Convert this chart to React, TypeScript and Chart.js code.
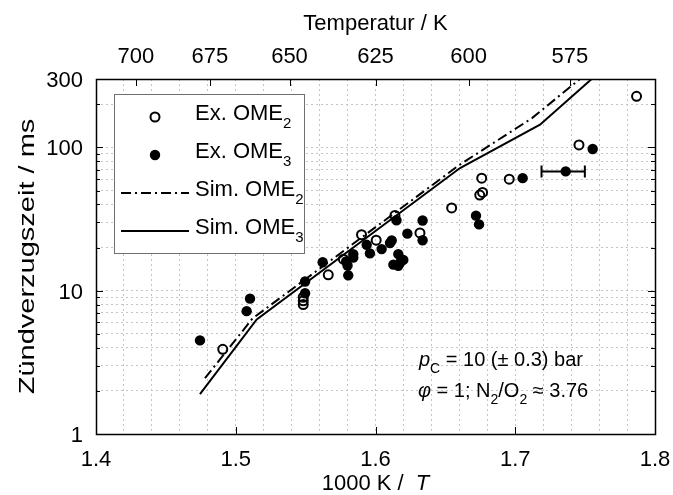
import React, { useEffect, useRef } from "react";
import { Chart, registerables } from "chart.js";

Chart.register(...registerables);

const FONT = '"Liberation Sans", Arial, Helvetica, sans-serif';
const FS = 22;

// Experiment OME2 (open circles)
const ome2X = [1.4907, 1.5483, 1.5483, 1.5483, 1.5662, 1.577, 1.590, 1.6005, 1.6139, 1.6318, 1.6545, 1.6746, 1.6766, 1.676, 1.6957, 1.7456, 1.7868];
const ome2Y = [3.9, 9.0, 8.5, 8.0, 12.9, 16.6, 24.6, 22.5, 33.5, 25.3, 37.8, 46.5, 48.5, 61, 60, 104, 227];

// Experiment OME3 (filled circles)
const ome3X = [1.4744, 1.5078, 1.5102, 1.5496, 1.5496, 1.5622, 1.5805, 1.579, 1.58, 1.5841, 1.5841, 1.5937, 1.596, 1.6044, 1.6104, 1.6116, 1.6128, 1.6163, 1.6175, 1.6199, 1.6163, 1.615, 1.6228, 1.6337, 1.6337, 1.6719, 1.6741, 1.7053, 1.7361, 1.7554];
const ome3Y = [4.5, 7.2, 8.8, 11.6, 9.6, 15.8, 12.8, 16.0, 15.0, 18.0, 17.0, 20.9, 18.2, 19.5, 21.5, 22.4, 15.2, 18.0, 15.6, 16.4, 14.9, 31.0, 25.0, 30.9, 22.5, 33.4, 29.0, 61, 68, 97.5];

// Simulation curves
const sim2X = [1.478, 1.512, 1.6605, 1.712, 1.7463];
const sim2Y = [2.45, 6.4, 76, 160, 300];
const sim3X = [1.4744, 1.515, 1.6605, 1.7177, 1.7547];
const sim3Y = [1.9, 6.3, 71.8, 144, 300];

// Horizontal error bar
const errX = [1.7361];
const errY = [68];
const errLow = [1.7188];
const errHigh = [1.7498];

// Ticks
const xGridTicks = [1.4, 1.42, 1.44, 1.46, 1.48, 1.5, 1.52, 1.54, 1.56, 1.58, 1.6, 1.62, 1.64, 1.66, 1.68, 1.7, 1.72, 1.74, 1.76, 1.78, 1.8];
const xLabelTicks = [1.4, 1.5, 1.6, 1.7, 1.8];
const yGridTicks = [1, 2, 3, 4, 5, 6, 7, 8, 9, 10, 20, 30, 40, 50, 60, 70, 80, 90, 100, 200, 300];
const yLabelTicks = [1, 10, 100, 300];
const yMajorTicks = [1, 10, 100];
const tempTicks = [700, 675, 650, 625, 600, 575];

type Part = { t: string; it?: boolean; sub?: boolean };

function richWidth(ctx: CanvasRenderingContext2D, parts: Part[], size: number, sub: number) {
  let w = 0;
  for (const p of parts) {
    ctx.font = `${p.it ? "italic " : ""}${p.sub ? sub : size}px ${FONT}`;
    w += ctx.measureText(p.t).width;
  }
  return w;
}

function drawRich(ctx: CanvasRenderingContext2D, parts: Part[], x: number, y: number, size: number, sub: number) {
  let cx = x;
  for (const p of parts) {
    ctx.font = `${p.it ? "italic " : ""}${p.sub ? sub : size}px ${FONT}`;
    ctx.fillText(p.t, cx, y + (p.sub ? Math.round(size * 0.36) : 0));
    cx += ctx.measureText(p.t).width;
  }
}

const errorBarPlugin = {
  id: "errorBars",
  beforeDatasetsDraw(chart: any) {
    const { ctx, scales } = chart;
    const xs = scales.x, ys = scales.y;
    ctx.save();
    ctx.strokeStyle = "#000";
    ctx.lineWidth = 2;
    errX.forEach((_, i) => {
      const py = ys.getPixelForValue(errY[i]);
      const l = xs.getPixelForValue(errLow[i]);
      const r = xs.getPixelForValue(errHigh[i]);
      ctx.beginPath();
      ctx.moveTo(l, py);
      ctx.lineTo(r, py);
      ctx.moveTo(l, py - 6);
      ctx.lineTo(l, py + 6);
      ctx.moveTo(r, py - 6);
      ctx.lineTo(r, py + 6);
      ctx.stroke();
    });
    ctx.restore();
  },
};

const decorPlugin = {
  id: "decor",
  afterDatasetsDraw(chart: any) {
    const { ctx, chartArea: a, scales } = chart;
    const xs = scales.x, ys = scales.y, xt = scales.xTop;
    ctx.save();
    ctx.strokeStyle = "#000";
    ctx.lineWidth = 1;
    // ticks
    ctx.beginPath();
    xLabelTicks.forEach((v) => {
      const px = Math.round(xs.getPixelForValue(v)) + 0.5;
      ctx.moveTo(px, a.bottom);
      ctx.lineTo(px, a.bottom - 7);
    });
    tempTicks.forEach((T) => {
      const px = Math.round(xt.getPixelForValue(1000 / T)) + 0.5;
      ctx.moveTo(px, a.top);
      ctx.lineTo(px, a.top + 7);
    });
    yGridTicks.forEach((v) => {
      const py = Math.round(ys.getPixelForValue(v)) + 0.5;
      const len = yMajorTicks.includes(v) ? 7 : 4;
      ctx.moveTo(a.left, py);
      ctx.lineTo(a.left + len, py);
      ctx.moveTo(a.right, py);
      ctx.lineTo(a.right - len, py);
    });
    ctx.stroke();
    // frame
    ctx.lineWidth = 1.5;
    ctx.strokeRect(Math.round(a.left) + 0.5, Math.round(a.top) + 0.5, Math.round(a.right - a.left), Math.round(a.bottom - a.top));

    ctx.fillStyle = "#000";
    ctx.textBaseline = "alphabetic";
    ctx.font = `${FS}px ${FONT}`;

    // tick labels (positions from the chart scales)
    ctx.textAlign = "center";
    xLabelTicks.forEach((v) => ctx.fillText(v.toFixed(1), xs.getPixelForValue(v), 466));
    tempTicks.forEach((T) => ctx.fillText(String(T), xt.getPixelForValue(1000 / T), 63));
    ctx.textAlign = "right";
    yLabelTicks.forEach((v) => ctx.fillText(String(v), a.left - 13, ys.getPixelForValue(v) + 8));

    ctx.textAlign = "left";
    const cx = (a.left + a.right) / 2;

    // top title
    const topTitle: Part[] = [{ t: "Temperatur / K" }];
    drawRich(ctx, topTitle, cx - richWidth(ctx, topTitle, FS, 15) / 2, 30, FS, 15);
    // bottom title
    const botTitle: Part[] = [{ t: "1000 K /  " }, { t: "T", it: true }];
    drawRich(ctx, botTitle, cx - richWidth(ctx, botTitle, FS, 15) / 2, 490, FS, 15);
    // y title
    ctx.save();
    ctx.translate(28, (a.top + a.bottom) / 2);
    ctx.rotate(-Math.PI / 2);
    ctx.scale(1, 0.78);
    ctx.font = `29px ${FONT}`;
    ctx.textAlign = "center";
    ctx.textBaseline = "middle";
    ctx.fillText("Zündverzugszeit / ms", 0, 0);
    ctx.restore();

    // legend
    const lx = 114, ly = 94, lw = 190, lh = 159;
    ctx.fillStyle = "#fff";
    ctx.fillRect(lx, ly, lw, lh);
    ctx.strokeStyle = "#707070";
    ctx.lineWidth = 1;
    ctx.strokeRect(lx + 0.5, ly + 0.5, lw, lh);
    const rows = [117, 155, 193, 231];
    ctx.strokeStyle = "#000";
    ctx.fillStyle = "#000";
    ctx.lineWidth = 2;
    ctx.beginPath();
    ctx.arc(155, rows[0], 4.5, 0, Math.PI * 2);
    ctx.stroke();
    ctx.beginPath();
    ctx.arc(155, rows[1], 5.2, 0, Math.PI * 2);
    ctx.fill();
    ctx.setLineDash([10, 4, 2, 4]);
    ctx.beginPath();
    ctx.moveTo(121, rows[2]);
    ctx.lineTo(189, rows[2]);
    ctx.stroke();
    ctx.setLineDash([]);
    ctx.beginPath();
    ctx.moveTo(121, rows[3]);
    ctx.lineTo(189, rows[3]);
    ctx.stroke();
    const labels: Part[][] = [
      [{ t: "Ex. OME" }, { t: "2", sub: true }],
      [{ t: "Ex. OME" }, { t: "3", sub: true }],
      [{ t: "Sim. OME" }, { t: "2", sub: true }],
      [{ t: "Sim. OME" }, { t: "3", sub: true }],
    ];
    labels.forEach((parts, i) => drawRich(ctx, parts, 195, rows[i] + 3, FS, 15));

    // annotation
    drawRich(ctx, [{ t: "p", it: true }, { t: "C", sub: true }, { t: " = 10 (± 0.3) bar" }], 419, 366, 20, 14);
    drawRich(ctx, [{ t: "φ", it: true }, { t: " = 1; N" }, { t: "2", sub: true }, { t: "/O" }, { t: "2", sub: true }, { t: " ≈ 3.76" }], 418, 397, 20, 14);
    ctx.restore();
  },
};

export default function App() {
  const ref = useRef<HTMLCanvasElement>(null);
  useEffect(() => {
    const canvas = ref.current;
    if (!canvas) return;
    const gridStyle = { color: "#c4c4c4", lineWidth: 1, drawTicks: false };
    const borderStyle = { display: false, dash: [2, 3] };
    const chart = new Chart(canvas, {
      type: "scatter",
      data: {
        datasets: [
          {
            label: "Ex. OME2",
            data: ome2X.map((x, i) => ({ x, y: ome2Y[i] })),
            pointStyle: "circle",
            pointRadius: 4.5,
            pointBorderWidth: 2,
            borderColor: "#000",
            backgroundColor: "rgba(255,255,255,0)",
            showLine: false,
          },
          {
            label: "Ex. OME3",
            data: ome3X.map((x, i) => ({ x, y: ome3Y[i] })),
            pointStyle: "circle",
            pointRadius: 5.2,
            pointBorderWidth: 0,
            borderColor: "#000",
            backgroundColor: "#000",
            showLine: false,
          },
          {
            label: "Sim. OME2",
            data: sim2X.map((x, i) => ({ x, y: sim2Y[i] })),
            showLine: true,
            pointRadius: 0,
            borderColor: "#000",
            borderWidth: 2,
            borderDash: [10, 4, 2, 4],
            fill: false,
          },
          {
            label: "Sim. OME3",
            data: sim3X.map((x, i) => ({ x, y: sim3Y[i] })),
            showLine: true,
            pointRadius: 0,
            borderColor: "#000",
            borderWidth: 2,
            fill: false,
          },
        ],
      },
      options: {
        responsive: false,
        animation: false,
        layout: { padding: { left: 0, top: 0, right: 18, bottom: 0 } },
        plugins: { legend: { display: false }, tooltip: { enabled: false } },
        scales: {
          x: {
            type: "linear",
            position: "bottom",
            min: 1.4,
            max: 1.8,
            afterBuildTicks: (s: any) => {
              s.ticks = xGridTicks.map((v) => ({ value: v }));
            },
            afterFit: (s: any) => {
              s.height = 61;
            },
            ticks: { display: false, autoSkip: false },
            grid: gridStyle,
            border: borderStyle,
          },
          xTop: {
            type: "linear",
            position: "top",
            min: 1.4,
            max: 1.8,
            afterBuildTicks: (s: any) => {
              s.ticks = tempTicks.map((T) => ({ value: 1000 / T }));
            },
            afterFit: (s: any) => {
              s.height = 79;
            },
            ticks: { display: false, autoSkip: false },
            grid: { display: false, drawTicks: false },
            border: { display: false },
          },
          y: {
            type: "logarithmic",
            min: 1,
            max: 300,
            afterBuildTicks: (s: any) => {
              s.ticks = yGridTicks.map((v) => ({ value: v }));
            },
            afterFit: (s: any) => {
              s.width = 96;
            },
            ticks: { display: false, autoSkip: false },
            grid: gridStyle,
            border: borderStyle,
          },
        },
      } as any,
      plugins: [errorBarPlugin, decorPlugin],
    });
    return () => chart.destroy();
  }, []);
  return (
    <div style={{ position: "fixed", left: 0, top: 0, width: 673, height: 495, background: "#fff" }}>
      <canvas ref={ref} width={673} height={495} />
    </div>
  );
}
